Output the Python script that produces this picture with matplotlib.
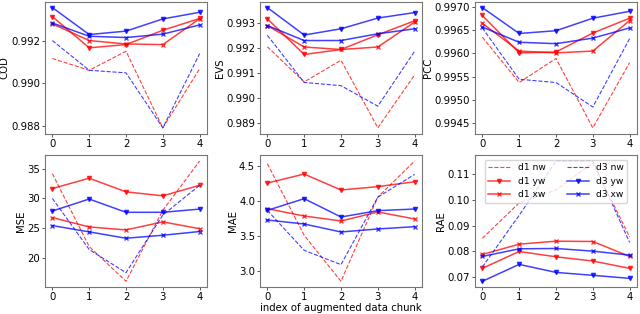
import matplotlib
matplotlib.use("Agg")
import matplotlib.pyplot as plt
from matplotlib.ticker import MultipleLocator

x = [0, 1, 2, 3, 4]
metrics = ["COD", "EVS", "PCC", "MSE", "MAE", "RAE"]

# series per metric: d1 nw, d1 yw, d1 xw, d3 nw, d3 yw, d3 xw
cod_d1_nw = [0.99116, 0.99061, 0.99150, 0.98792, 0.99068]
cod_d1_yw = [0.99312, 0.99166, 0.99181, 0.99248, 0.99303]
cod_d1_xw = [0.99278, 0.99200, 0.99184, 0.99181, 0.99302]
cod_d3_nw = [0.99200, 0.99061, 0.99049, 0.98792, 0.99139]
cod_d3_yw = [0.99354, 0.99228, 0.99244, 0.99301, 0.99332]
cod_d3_xw = [0.99282, 0.99220, 0.99214, 0.99230, 0.99273]

evs_d1_nw = [0.99204, 0.99063, 0.99150, 0.98879, 0.99091]
evs_d1_yw = [0.99316, 0.99173, 0.99193, 0.99252, 0.99308]
evs_d1_xw = [0.99289, 0.99203, 0.99193, 0.99203, 0.99303]
evs_d3_nw = [0.99250, 0.99061, 0.99048, 0.98966, 0.99186]
evs_d3_yw = [0.99361, 0.99251, 0.99276, 0.99319, 0.99341]
evs_d3_xw = [0.99289, 0.99229, 0.99229, 0.99256, 0.99276]

pcc_d1_nw = [0.99635, 0.99537, 0.99589, 0.99439, 0.99580]
pcc_d1_yw = [0.99682, 0.99601, 0.99603, 0.99644, 0.99676]
pcc_d1_xw = [0.99665, 0.99605, 0.99601, 0.99605, 0.99671]
pcc_d3_nw = [0.99655, 0.99544, 0.99537, 0.99484, 0.99632]
pcc_d3_yw = [0.99699, 0.99643, 0.99649, 0.99676, 0.99691]
pcc_d3_xw = [0.99657, 0.99624, 0.99621, 0.99633, 0.99655]

mse_d1_nw = [34.16, 21.9, 16.06, 28.0, 36.28]
mse_d1_yw = [31.66, 33.39, 31.1, 30.43, 32.2]
mse_d1_xw = [26.77, 25.2, 24.7, 26.05, 24.9]
mse_d3_nw = [30.0, 21.4, 17.5, 27.2, 32.2]
mse_d3_yw = [27.88, 29.89, 27.66, 27.66, 28.2]
mse_d3_xw = [25.43, 24.37, 23.3, 23.8, 24.43]

mae_d1_nw = [4.538, 3.514, 2.857, 4.06, 4.576]
mae_d1_yw = [4.262, 4.39, 4.162, 4.21, 4.28]
mae_d1_xw = [3.895, 3.79, 3.719, 3.848, 3.748]
mae_d3_nw = [3.87, 3.30, 3.095, 4.06, 4.386]
mae_d3_yw = [3.871, 4.038, 3.776, 3.867, 3.89]
mae_d3_xw = [3.733, 3.676, 3.562, 3.605, 3.638]

rae_d1_nw = [0.0851, 0.0988, 0.1038, 0.1143, 0.0856]
rae_d1_yw = [0.07347, 0.0800, 0.07794, 0.0763, 0.07347]
rae_d1_xw = [0.07884, 0.08283, 0.08399, 0.08386, 0.07807]
rae_d3_nw = [0.0740, 0.0940, 0.1150, 0.1150, 0.0835]
rae_d3_yw = [0.06846, 0.0750, 0.0719, 0.07077, 0.0696]
rae_d3_xw = [0.07807, 0.08103, 0.08116, 0.08013, 0.07859]

data = {
    "COD": [cod_d1_nw, cod_d1_yw, cod_d1_xw, cod_d3_nw, cod_d3_yw, cod_d3_xw],
    "EVS": [evs_d1_nw, evs_d1_yw, evs_d1_xw, evs_d3_nw, evs_d3_yw, evs_d3_xw],
    "PCC": [pcc_d1_nw, pcc_d1_yw, pcc_d1_xw, pcc_d3_nw, pcc_d3_yw, pcc_d3_xw],
    "MSE": [mse_d1_nw, mse_d1_yw, mse_d1_xw, mse_d3_nw, mse_d3_yw, mse_d3_xw],
    "MAE": [mae_d1_nw, mae_d1_yw, mae_d1_xw, mae_d3_nw, mae_d3_yw, mae_d3_xw],
    "RAE": [rae_d1_nw, rae_d1_yw, rae_d1_xw, rae_d3_nw, rae_d3_yw, rae_d3_xw],
}
tick_steps = {"COD": 0.002, "EVS": 0.001, "PCC": 0.0005,
              "MSE": 5, "MAE": 0.5, "RAE": 0.01}
labels = ["d1 nw", "d1 yw", "d1 xw", "d3 nw", "d3 yw", "d3 xw"]
colors = ["red", "red", "red", "blue", "blue", "blue"]
styles = ["--", "-", "-", "--", "-", "-"]
markers = [None, "v", "x", None, "v", "x"]
lws = [0.8, 1.1, 1.1, 0.8, 1.1, 1.1]

plt.rcParams["font.size"] = 7.3
fig, axes = plt.subplots(2, 3, figsize=(6.4, 3.14), dpi=100)
fig.subplots_adjust(left=0.0703, right=0.9953, top=0.995, bottom=0.085,
                    wspace=0.327, hspace=0.16)

for ax, m in zip(axes.flat, metrics):
    for ser, lab, c, ls, mk, lw in zip(data[m], labels, colors, styles, markers, lws):
        ax.plot(x, ser, linestyle=ls, marker=mk, color=c, label=lab,
                lw=lw, markersize=3, alpha=0.75)
    ax.set_ylabel(m, labelpad=1)
    ax.set_xticks(x)
    ax.yaxis.set_major_locator(MultipleLocator(tick_steps[m]))
    ax.tick_params(length=2, pad=1.5, width=0.7, color="#555555")
    for sp in ax.spines.values():
        sp.set_color("#777777")

axes[1, 1].set_xlabel("index of augmented data chunk", labelpad=0.5)
axes[1, 2].legend(ncol=2, loc="upper center", fontsize=6.6,
                  handlelength=2.4, columnspacing=2.3, borderaxespad=0.5,
                  labelspacing=0.5, edgecolor="#cccccc")

fig.savefig("out.png", dpi=100)
